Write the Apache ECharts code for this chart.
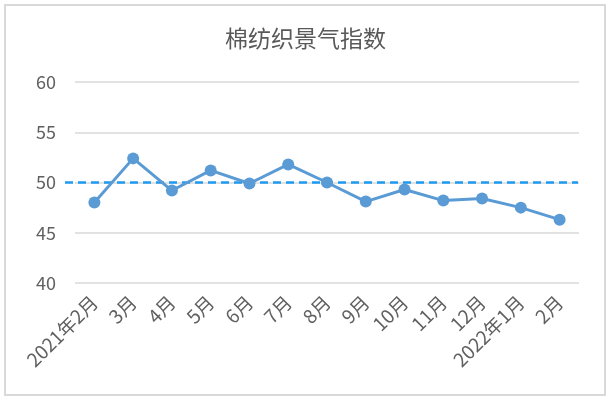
<!DOCTYPE html>
<html>
<head>
<meta charset="utf-8">
<script src="https://cdn.jsdelivr.net/npm/echarts@6/dist/echarts.min.js"></script>
<style>
html,body{margin:0;padding:0;background:#fff;}
#wrap{position:relative;width:611px;height:400px;}
#frame{position:absolute;left:4px;top:4px;width:598px;height:388px;border:2px solid #D9D9D9;box-sizing:content-box;pointer-events:none;}
#chart{position:absolute;left:0;top:0;width:611px;height:400px;}
</style>
</head>
<body>
<div id="wrap"><div id="chart"></div><div id="frame"></div></div>
<script>
var titleText = '棉纺织景气指数';
var categories = ['2021年2月','3月','4月','5月','6月','7月','8月','9月','10月','11月','12月','2022年1月','2月'];
var values = [48.0, 52.4, 49.2, 51.2, 49.9, 51.8, 50.0, 48.1, 49.3, 48.2, 48.4, 47.5, 46.3];
var refLevel = 50;
var yTicks = {min: 40, max: 60, interval: 5};

var font = '"Noto Sans CJK SC", "Noto Sans", sans-serif';
var chart = echarts.init(document.getElementById('chart'), null, {renderer: 'canvas'});
chart.setOption({
  animation: false,
  backgroundColor: '#fff',
  title: {
    text: titleText, left: 'center', top: 22,
    textStyle: {fontFamily: font, fontSize: 23, fontWeight: 'normal', color: '#595959'}
  },
  grid: [
    {left: 75, right: 32, top: 82, bottom: 117},
    {left: 65, right: 33, top: 82, bottom: 117}
  ],
  xAxis: [
    {
      type: 'category', gridIndex: 0, data: categories, boundaryGap: true,
      axisLine: {show: false}, axisTick: {show: false},
      axisLabel: {rotate: 45, margin: 16, interval: 0, fontFamily: font, fontSize: 19, color: '#606060'}
    },
    {type: 'value', gridIndex: 1, min: 0, max: 1, show: false}
  ],
  yAxis: [
    {
      type: 'value', gridIndex: 0, min: yTicks.min, max: yTicks.max, interval: yTicks.interval,
      axisLine: {show: false}, axisTick: {show: false},
      axisLabel: {margin: 19, fontFamily: font, fontSize: 18, color: '#606060'},
      splitLine: {lineStyle: {color: '#D9D9D9', width: 1.5}}
    },
    {type: 'value', gridIndex: 1, min: yTicks.min, max: yTicks.max, show: false}
  ],
  series: [
    {
      type: 'line', xAxisIndex: 1, yAxisIndex: 1,
      data: [[0, refLevel], [1, refLevel]],
      showSymbol: false, silent: true,
      lineStyle: {color: '#1E9BF0', width: 2.5, type: [8, 5]}
    },
    {
      type: 'line', xAxisIndex: 0, yAxisIndex: 0,
      data: values, symbol: 'circle', symbolSize: 12,
      lineStyle: {color: '#5B9BD5', width: 3},
      itemStyle: {color: '#5B9BD5'}
    }
  ]
});
</script>
</body>
</html>
